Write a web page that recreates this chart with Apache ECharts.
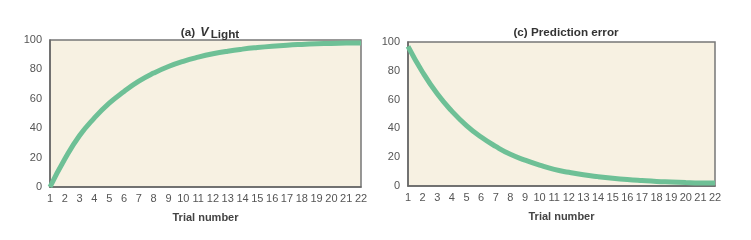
<!DOCTYPE html>
<html><head><meta charset="utf-8">
<script src="https://cdn.jsdelivr.net/npm/echarts@6/dist/echarts.min.js"></script>
<style>html,body{margin:0;padding:0;background:#fff}#c{width:751px;height:240px}</style>
</head><body><div id="c"></div>
<script>
var trials = ['1','2','3','4','5','6','7','8','9','10','11','12','13','14','15','16','17','18','19','20','21','22'];
var vLight = [0,19,35,47,57,65,72,77.5,82,85.5,88.3,90.6,92.4,93.8,94.9,95.8,96.5,97,97.4,97.7,97.9,98];
var predError = [97,79,64,52,42,34,27.5,22,18,14.5,11.5,9.5,7.8,6.5,5.4,4.5,3.8,3.2,2.8,2.4,2.1,2];
var yTicks = [0,20,40,60,80,100];

var chart = echarts.init(document.getElementById('c'), null, {renderer:'canvas'});
var lineColor = '#6ec096';
var font = 'Arial, "Liberation Sans", sans-serif';
function xAx(i){return {gridIndex:i,type:'category',data:trials,boundaryGap:false,
  axisLine:{show:true,lineStyle:{color:'#666',width:1.5}},axisTick:{show:false},
  axisLabel:{color:'#555',fontSize:11,margin:6,fontFamily:font,interval:0},
  splitLine:{show:false},
  name:'Trial number',nameLocation:'middle',nameGap:25,
  nameTextStyle:{color:'#444',fontSize:11,fontWeight:'bold',fontFamily:font}};}
function yAx(i){return {gridIndex:i,type:'value',min:yTicks[0],max:yTicks[yTicks.length-1],interval:20,
  axisLine:{show:true,lineStyle:{color:'#666',width:1.5}},axisTick:{show:false},
  axisLabel:{color:'#555',fontSize:11,margin:8,fontFamily:font},
  splitLine:{show:false}};}
chart.setOption({
  animation:false,
  backgroundColor:'#fff',
  title:[
    {text:'(a) {v|V}{s|Light}',left:205,top:20,textAlign:'center',
     textStyle:{fontSize:11.7,fontWeight:'bold',color:'#333',fontFamily:font,
       rich:{v:{fontSize:12.5,fontWeight:'bold',fontStyle:'italic',color:'#333',fontFamily:font,padding:[0,2,0,2]},
             s:{fontSize:11.7,fontWeight:'bold',color:'#333',fontFamily:font,padding:[4,0,0,0]}}}},
    {text:'(c) Prediction error',left:561,top:22,textAlign:'center',
     textStyle:{fontSize:11.7,fontWeight:'bold',color:'#333',fontFamily:font}}
  ],
  grid:[
    {left:50,top:40,width:311,height:147,show:true,backgroundColor:'#f7f1e2',borderColor:'#777',borderWidth:1.5},
    {left:408,top:42,width:307,height:144,show:true,backgroundColor:'#f7f1e2',borderColor:'#777',borderWidth:1.5}
  ],
  xAxis:[xAx(0),xAx(1)],
  yAxis:[yAx(0),yAx(1)],
  series:[
    {type:'line',xAxisIndex:0,yAxisIndex:0,data:vLight,smooth:0.5,showSymbol:false,
     lineStyle:{color:lineColor,width:5}},
    {type:'line',xAxisIndex:1,yAxisIndex:1,data:predError,smooth:0.5,showSymbol:false,
     lineStyle:{color:lineColor,width:5}}
  ]
});
</script></body></html>
